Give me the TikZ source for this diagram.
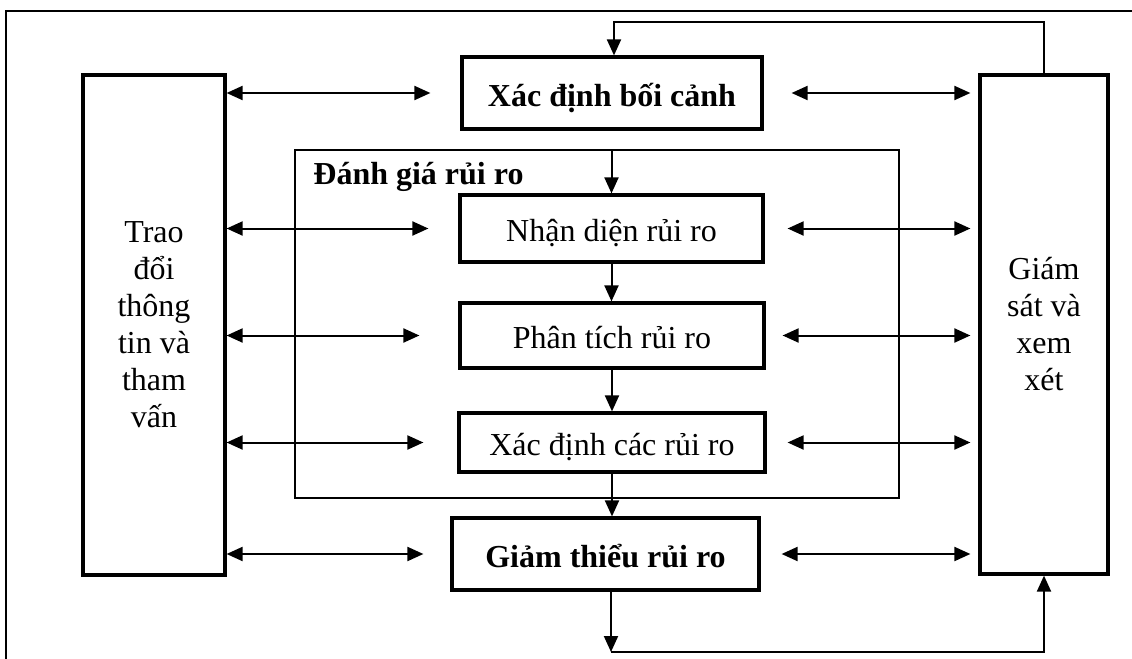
\documentclass[tikz,border=0pt]{standalone}
\usepackage{fontspec}
\setmainfont{Liberation Serif}
\usetikzlibrary{arrows.meta}

\begin{document}
\begin{tikzpicture}[x=0.5pt,y=-0.5pt]
\tikzstyle{blk}=[draw, line width=1.6pt, inner sep=0pt, text height=16pt, text depth=3pt, font=\fontsize{16}{18.5}\selectfont]
\tikzstyle{bblk}=[blk, font=\fontsize{16}{19}\selectfont\bfseries]
\tikzstyle{side}=[draw, line width=1.6pt, align=center, font=\fontsize{16}{18.5}\selectfont]
\tikzstyle{arr}=[line width=1pt, -{Triangle[length=8pt,width=7pt]}]
\tikzstyle{dbl}=[line width=1pt, {Triangle[length=8pt,width=7pt]}-{Triangle[length=8pt,width=7pt]}]
\useasboundingbox (0,0) rectangle (1132,659);
\draw[line width=0.6pt] (1132,11) -- (6,11) -- (6,659);
\node[draw, line width=1pt, minimum width=302pt, minimum height=174pt] (dg) at (597,324) {};
\node[anchor=base west, inner sep=0pt, font=\fontsize{16}{19}\selectfont\bfseries] (dglbl) at (313,184) {Đánh giá rủi ro};
\node[bblk, minimum width=150pt, minimum height=36pt] (bc) at (612,93) {Xác định bối cảnh};
\node[blk, minimum width=151.5pt, minimum height=33.5pt] (nd) at (611.5,228.5) {Nhận diện rủi ro};
\node[blk, minimum width=152pt, minimum height=32.5pt] (ptr) at (612,335.5) {Phân tích rủi ro};
\node[blk, minimum width=153pt, minimum height=29.5pt] (xd) at (612,442.5) {Xác định các rủi ro};
\node[bblk, minimum width=153.5pt, minimum height=36pt] (gt) at (605.5,554) {Giảm thiểu rủi ro};
\node[side, minimum width=71pt, minimum height=250pt] (tv) at (154,325) {Trao\\đổi\\thông\\tin và\\tham\\vấn};
\node[side, minimum width=64pt, minimum height=249.5pt] (gs) at (1044,324.5) {Giám\\sát và\\xem\\xét};
\foreach \n/\a/\b in {bc/15pt/14pt, nd/15pt/11.5pt, ptr/19.5pt/8.5pt, xd/17pt/10.5pt, gt/13.5pt/10.5pt}{
	\draw[dbl, shorten >=\a] (tv.east |- \n.west) -- (\n.west);
	\draw[dbl, shorten <=\b, shorten >=4pt] (\n.east) -- (gs.west |- \n.east);}
\draw[arr] (dg.north -| nd.north) -- (nd.north);
\draw[arr] (nd.south) -- (nd.south |- ptr.north);
\draw[arr] (ptr.south) -- (ptr.south |- xd.north);
\draw[arr] (xd.south) -- (xd.south |- gt.north);
\coordinate (b1) at (611,652);
\draw[arr] (gt.south -| b1) -- (b1);
\draw[arr] (b1) -| (gs.south);
\coordinate (t1) at (614,22);
\draw[arr] (gs.north) |- (t1) -- (t1 |- bc.north);
\end{tikzpicture}
\end{document}
